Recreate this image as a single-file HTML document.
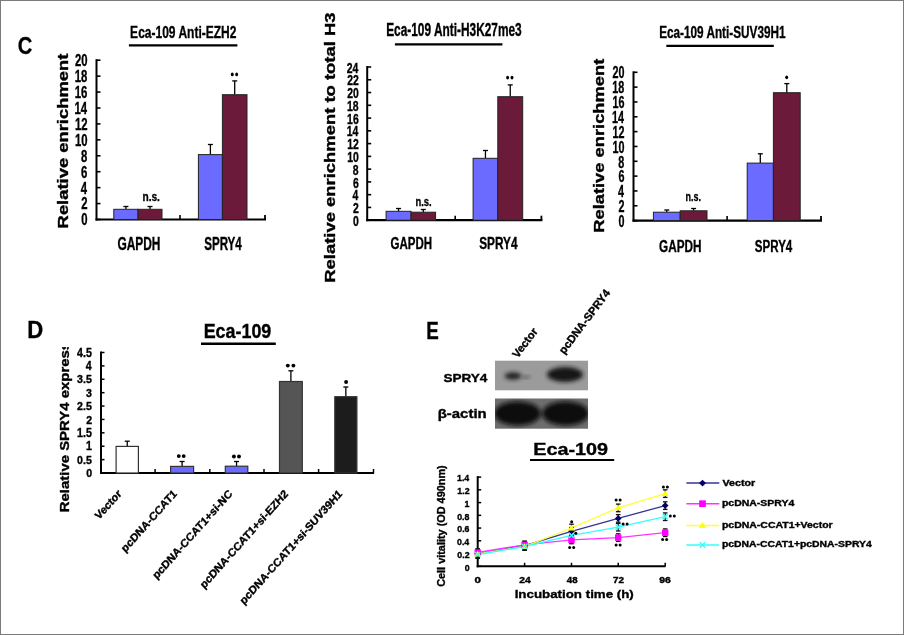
<!DOCTYPE html>
<html><head><meta charset="utf-8"><style>
html,body{margin:0;padding:0;background:#fff;}
svg{display:block;filter:blur(0.3px);}
text{font-family:"Liberation Sans",sans-serif;font-weight:bold;stroke:#000;stroke-width:0.35px;}
</style></head><body>
<svg width="904" height="635" viewBox="0 0 904 635">
<defs>
<filter id="bl" x="-50%" y="-50%" width="200%" height="200%"><feGaussianBlur stdDeviation="2.5"/></filter>
<filter id="bl2" x="-50%" y="-50%" width="200%" height="200%"><feGaussianBlur stdDeviation="2"/></filter>
<clipPath id="clipD"><rect x="0" y="347" width="904" height="288"/></clipPath>
</defs>
<rect x="0" y="0" width="904" height="635" fill="#fff"/>
<text font-size="24.51" fill="#000" transform="translate(17.69,54.15) scale(0.822,1)">C</text>
<text font-size="23.77" fill="#000" transform="translate(27.26,338.00) scale(0.930,1)">D</text>
<text font-size="24.06" fill="#000" transform="translate(426.18,339.30) scale(0.780,1)">E</text>
<line x1="96.50" y1="59.20" x2="96.50" y2="220.50" stroke="#000" stroke-width="2"/>
<line x1="95.50" y1="219.50" x2="266.00" y2="219.50" stroke="#000" stroke-width="2.2"/>
<line x1="96.50" y1="219.50" x2="100.50" y2="219.50" stroke="#000" stroke-width="1.6"/>
<line x1="96.50" y1="203.57" x2="100.50" y2="203.57" stroke="#000" stroke-width="1.6"/>
<line x1="96.50" y1="187.64" x2="100.50" y2="187.64" stroke="#000" stroke-width="1.6"/>
<line x1="96.50" y1="171.71" x2="100.50" y2="171.71" stroke="#000" stroke-width="1.6"/>
<line x1="96.50" y1="155.78" x2="100.50" y2="155.78" stroke="#000" stroke-width="1.6"/>
<line x1="96.50" y1="139.85" x2="100.50" y2="139.85" stroke="#000" stroke-width="1.6"/>
<line x1="96.50" y1="123.92" x2="100.50" y2="123.92" stroke="#000" stroke-width="1.6"/>
<line x1="96.50" y1="107.99" x2="100.50" y2="107.99" stroke="#000" stroke-width="1.6"/>
<line x1="96.50" y1="92.06" x2="100.50" y2="92.06" stroke="#000" stroke-width="1.6"/>
<line x1="96.50" y1="76.13" x2="100.50" y2="76.13" stroke="#000" stroke-width="1.6"/>
<line x1="96.50" y1="60.20" x2="100.50" y2="60.20" stroke="#000" stroke-width="1.6"/>
<line x1="180.00" y1="219.50" x2="180.00" y2="215.00" stroke="#000" stroke-width="1.6"/>
<line x1="265.00" y1="219.50" x2="265.00" y2="215.00" stroke="#000" stroke-width="1.8"/>
<line x1="125.90" y1="206.50" x2="125.90" y2="209.30" stroke="#000" stroke-width="1.3"/>
<line x1="123.40" y1="206.50" x2="128.40" y2="206.50" stroke="#000" stroke-width="1.3"/>
<rect x="113.80" y="209.30" width="24.20" height="10.20" fill="#6b6bff" stroke="#222" stroke-width="1"/>
<line x1="150.00" y1="206.50" x2="150.00" y2="209.30" stroke="#000" stroke-width="1.3"/>
<line x1="147.50" y1="206.50" x2="152.50" y2="206.50" stroke="#000" stroke-width="1.3"/>
<rect x="138.00" y="209.30" width="24.00" height="10.20" fill="#6b1a3a" stroke="#222" stroke-width="1"/>
<line x1="210.40" y1="144.50" x2="210.40" y2="154.60" stroke="#000" stroke-width="1.3"/>
<line x1="207.90" y1="144.50" x2="212.90" y2="144.50" stroke="#000" stroke-width="1.3"/>
<rect x="198.40" y="154.60" width="24.00" height="64.90" fill="#6b6bff" stroke="#222" stroke-width="1"/>
<line x1="234.70" y1="80.90" x2="234.70" y2="94.70" stroke="#000" stroke-width="1.3"/>
<line x1="232.20" y1="80.90" x2="237.20" y2="80.90" stroke="#000" stroke-width="1.3"/>
<rect x="222.40" y="94.70" width="24.60" height="124.80" fill="#6b1a3a" stroke="#222" stroke-width="1"/>
<text font-size="16.52" fill="#000" transform="translate(130.12,37.80) scale(0.727,1)">Eca-109 Anti-EZH2</text>
<line x1="128.90" y1="45.30" x2="237.40" y2="45.30" stroke="#000" stroke-width="2.2"/>
<text font-size="14.42" fill="#000" transform="translate(67.76,228.40) rotate(-90) scale(1.276,1)">Relative enrichment</text>
<line x1="367.20" y1="66.00" x2="367.20" y2="221.20" stroke="#000" stroke-width="2"/>
<line x1="366.20" y1="220.20" x2="542.40" y2="220.20" stroke="#000" stroke-width="2.2"/>
<line x1="367.20" y1="220.20" x2="371.20" y2="220.20" stroke="#000" stroke-width="1.6"/>
<line x1="367.20" y1="207.43" x2="371.20" y2="207.43" stroke="#000" stroke-width="1.6"/>
<line x1="367.20" y1="194.67" x2="371.20" y2="194.67" stroke="#000" stroke-width="1.6"/>
<line x1="367.20" y1="181.90" x2="371.20" y2="181.90" stroke="#000" stroke-width="1.6"/>
<line x1="367.20" y1="169.13" x2="371.20" y2="169.13" stroke="#000" stroke-width="1.6"/>
<line x1="367.20" y1="156.37" x2="371.20" y2="156.37" stroke="#000" stroke-width="1.6"/>
<line x1="367.20" y1="143.60" x2="371.20" y2="143.60" stroke="#000" stroke-width="1.6"/>
<line x1="367.20" y1="130.83" x2="371.20" y2="130.83" stroke="#000" stroke-width="1.6"/>
<line x1="367.20" y1="118.07" x2="371.20" y2="118.07" stroke="#000" stroke-width="1.6"/>
<line x1="367.20" y1="105.30" x2="371.20" y2="105.30" stroke="#000" stroke-width="1.6"/>
<line x1="367.20" y1="92.53" x2="371.20" y2="92.53" stroke="#000" stroke-width="1.6"/>
<line x1="367.20" y1="79.77" x2="371.20" y2="79.77" stroke="#000" stroke-width="1.6"/>
<line x1="367.20" y1="67.00" x2="371.20" y2="67.00" stroke="#000" stroke-width="1.6"/>
<line x1="455.20" y1="220.20" x2="455.20" y2="215.70" stroke="#000" stroke-width="1.6"/>
<line x1="541.40" y1="220.20" x2="541.40" y2="215.70" stroke="#000" stroke-width="1.8"/>
<line x1="398.55" y1="208.50" x2="398.55" y2="211.30" stroke="#000" stroke-width="1.3"/>
<line x1="396.05" y1="208.50" x2="401.05" y2="208.50" stroke="#000" stroke-width="1.3"/>
<rect x="386.10" y="211.30" width="24.90" height="8.90" fill="#6b6bff" stroke="#222" stroke-width="1"/>
<line x1="423.30" y1="209.50" x2="423.30" y2="212.20" stroke="#000" stroke-width="1.3"/>
<line x1="420.80" y1="209.50" x2="425.80" y2="209.50" stroke="#000" stroke-width="1.3"/>
<rect x="411.00" y="212.20" width="24.60" height="8.00" fill="#6b1a3a" stroke="#222" stroke-width="1"/>
<line x1="485.45" y1="150.50" x2="485.45" y2="158.30" stroke="#000" stroke-width="1.3"/>
<line x1="482.95" y1="150.50" x2="487.95" y2="150.50" stroke="#000" stroke-width="1.3"/>
<rect x="473.10" y="158.30" width="24.70" height="61.90" fill="#6b6bff" stroke="#222" stroke-width="1"/>
<line x1="510.25" y1="84.90" x2="510.25" y2="96.70" stroke="#000" stroke-width="1.3"/>
<line x1="507.75" y1="84.90" x2="512.75" y2="84.90" stroke="#000" stroke-width="1.3"/>
<rect x="497.80" y="96.70" width="24.90" height="123.50" fill="#6b1a3a" stroke="#222" stroke-width="1"/>
<text font-size="17.54" fill="#000" transform="translate(386.13,35.90) scale(0.678,1)">Eca-109 Anti-H3K27me3</text>
<line x1="394.90" y1="44.30" x2="502.40" y2="44.30" stroke="#000" stroke-width="2.2"/>
<text font-size="14.83" fill="#000" transform="translate(334.65,282.80) rotate(-90) scale(1.244,1)">Relative enrichment to total H3</text>
<line x1="633.50" y1="71.30" x2="633.50" y2="221.60" stroke="#000" stroke-width="2"/>
<line x1="632.50" y1="220.60" x2="822.00" y2="220.60" stroke="#000" stroke-width="2.2"/>
<line x1="633.50" y1="220.60" x2="637.50" y2="220.60" stroke="#000" stroke-width="1.6"/>
<line x1="633.50" y1="205.77" x2="637.50" y2="205.77" stroke="#000" stroke-width="1.6"/>
<line x1="633.50" y1="190.94" x2="637.50" y2="190.94" stroke="#000" stroke-width="1.6"/>
<line x1="633.50" y1="176.11" x2="637.50" y2="176.11" stroke="#000" stroke-width="1.6"/>
<line x1="633.50" y1="161.28" x2="637.50" y2="161.28" stroke="#000" stroke-width="1.6"/>
<line x1="633.50" y1="146.45" x2="637.50" y2="146.45" stroke="#000" stroke-width="1.6"/>
<line x1="633.50" y1="131.62" x2="637.50" y2="131.62" stroke="#000" stroke-width="1.6"/>
<line x1="633.50" y1="116.79" x2="637.50" y2="116.79" stroke="#000" stroke-width="1.6"/>
<line x1="633.50" y1="101.96" x2="637.50" y2="101.96" stroke="#000" stroke-width="1.6"/>
<line x1="633.50" y1="87.13" x2="637.50" y2="87.13" stroke="#000" stroke-width="1.6"/>
<line x1="633.50" y1="72.30" x2="637.50" y2="72.30" stroke="#000" stroke-width="1.6"/>
<line x1="727.10" y1="220.60" x2="727.10" y2="216.10" stroke="#000" stroke-width="1.6"/>
<line x1="821.00" y1="220.60" x2="821.00" y2="216.10" stroke="#000" stroke-width="1.8"/>
<line x1="666.80" y1="210.00" x2="666.80" y2="212.20" stroke="#000" stroke-width="1.3"/>
<line x1="664.30" y1="210.00" x2="669.30" y2="210.00" stroke="#000" stroke-width="1.3"/>
<rect x="653.40" y="212.20" width="26.80" height="8.40" fill="#6b6bff" stroke="#222" stroke-width="1"/>
<line x1="693.60" y1="208.50" x2="693.60" y2="210.80" stroke="#000" stroke-width="1.3"/>
<line x1="691.10" y1="208.50" x2="696.10" y2="208.50" stroke="#000" stroke-width="1.3"/>
<rect x="680.20" y="210.80" width="26.80" height="9.80" fill="#6b1a3a" stroke="#222" stroke-width="1"/>
<line x1="760.30" y1="153.80" x2="760.30" y2="163.10" stroke="#000" stroke-width="1.3"/>
<line x1="757.80" y1="153.80" x2="762.80" y2="153.80" stroke="#000" stroke-width="1.3"/>
<rect x="747.20" y="163.10" width="26.20" height="57.50" fill="#6b6bff" stroke="#222" stroke-width="1"/>
<line x1="786.80" y1="83.60" x2="786.80" y2="92.70" stroke="#000" stroke-width="1.3"/>
<line x1="784.30" y1="83.60" x2="789.30" y2="83.60" stroke="#000" stroke-width="1.3"/>
<rect x="773.40" y="92.70" width="26.80" height="127.90" fill="#6b1a3a" stroke="#222" stroke-width="1"/>
<text font-size="16.52" fill="#000" transform="translate(659.13,38.20) scale(0.713,1)">Eca-109 Anti-SUV39H1</text>
<line x1="666.30" y1="45.80" x2="773.80" y2="45.80" stroke="#000" stroke-width="2.2"/>
<text font-size="14.29" fill="#000" transform="translate(603.86,232.79) rotate(-90) scale(1.283,1)">Relative enrichment</text>
<text font-size="15.71" transform="translate(81.16,225.40) scale(0.721,1)">0</text>
<text font-size="15.71" transform="translate(81.16,209.47) scale(0.721,1)">2</text>
<text font-size="15.94" transform="translate(80.77,193.54) scale(0.711,1)">4</text>
<text font-size="15.71" transform="translate(81.11,177.61) scale(0.721,1)">6</text>
<text font-size="15.71" transform="translate(81.05,161.68) scale(0.721,1)">8</text>
<text font-size="15.71" transform="translate(74.88,145.75) scale(0.721,1)">10</text>
<text font-size="15.71" transform="translate(74.88,129.82) scale(0.721,1)">12</text>
<text font-size="15.94" transform="translate(74.48,113.89) scale(0.711,1)">14</text>
<text font-size="15.71" transform="translate(74.82,97.96) scale(0.721,1)">16</text>
<text font-size="15.71" transform="translate(74.76,82.03) scale(0.721,1)">18</text>
<text font-size="15.71" transform="translate(74.88,66.10) scale(0.721,1)">20</text>
<text font-size="14.29" transform="translate(352.93,226.00) scale(0.730,1)">0</text>
<text font-size="14.29" transform="translate(352.93,213.21) scale(0.730,1)">2</text>
<text font-size="14.49" transform="translate(352.56,200.42) scale(0.720,1)">4</text>
<text font-size="14.29" transform="translate(352.88,187.62) scale(0.730,1)">6</text>
<text font-size="14.29" transform="translate(352.82,174.83) scale(0.730,1)">8</text>
<text font-size="14.29" transform="translate(347.14,162.04) scale(0.730,1)">10</text>
<text font-size="14.29" transform="translate(347.14,149.25) scale(0.730,1)">12</text>
<text font-size="14.49" transform="translate(346.77,136.46) scale(0.720,1)">14</text>
<text font-size="14.29" transform="translate(347.09,123.67) scale(0.730,1)">16</text>
<text font-size="14.29" transform="translate(347.03,110.88) scale(0.730,1)">18</text>
<text font-size="14.29" transform="translate(347.14,98.08) scale(0.730,1)">20</text>
<text font-size="14.29" transform="translate(347.14,85.29) scale(0.730,1)">22</text>
<text font-size="14.29" transform="translate(346.77,72.50) scale(0.730,1)">24</text>
<text font-size="16.43" transform="translate(618.44,227.05) scale(0.657,1)">0</text>
<text font-size="16.43" transform="translate(618.44,212.19) scale(0.657,1)">2</text>
<text font-size="16.67" transform="translate(618.06,197.33) scale(0.647,1)">4</text>
<text font-size="16.43" transform="translate(618.39,182.47) scale(0.657,1)">6</text>
<text font-size="16.43" transform="translate(618.33,167.61) scale(0.657,1)">8</text>
<text font-size="16.43" transform="translate(612.45,152.75) scale(0.657,1)">10</text>
<text font-size="16.43" transform="translate(612.45,137.89) scale(0.657,1)">12</text>
<text font-size="16.67" transform="translate(612.08,123.03) scale(0.647,1)">14</text>
<text font-size="16.43" transform="translate(612.40,108.17) scale(0.657,1)">16</text>
<text font-size="16.43" transform="translate(612.35,93.31) scale(0.657,1)">18</text>
<text font-size="16.43" transform="translate(612.45,78.45) scale(0.657,1)">20</text>
<text font-size="17.46" fill="#000" transform="translate(117.42,250.23) scale(0.683,1)">GAPDH</text>
<text font-size="17.46" fill="#000" transform="translate(204.15,250.23) scale(0.666,1)">SPRY4</text>
<text font-size="16.20" fill="#000" transform="translate(390.44,248.64) scale(0.712,1)">GAPDH</text>
<text font-size="16.20" fill="#000" transform="translate(479.15,248.64) scale(0.730,1)">SPRY4</text>
<text font-size="17.18" fill="#000" transform="translate(659.03,251.73) scale(0.684,1)">GAPDH</text>
<text font-size="17.18" fill="#000" transform="translate(754.75,251.73) scale(0.675,1)">SPRY4</text>
<text font-size="13.45" fill="#000" transform="translate(142.44,200.77) scale(0.757,1)">n.s.</text>
<text font-size="13.64" fill="#000" transform="translate(415.39,205.86) scale(0.692,1)">n.s.</text>
<text font-size="13.45" fill="#000" transform="translate(685.42,201.27) scale(0.668,1)">n.s.</text>
<ellipse cx="232.30" cy="74.40" rx="1.45" ry="1.9" fill="#000"/>
<ellipse cx="236.70" cy="74.40" rx="1.45" ry="1.9" fill="#000"/>
<ellipse cx="507.60" cy="77.60" rx="1.45" ry="1.9" fill="#000"/>
<ellipse cx="512.00" cy="77.60" rx="1.45" ry="1.9" fill="#000"/>
<ellipse cx="786.70" cy="77.30" rx="1.45" ry="1.9" fill="#000"/>
<line x1="101.00" y1="351.50" x2="101.00" y2="474.00" stroke="#000" stroke-width="2"/>
<line x1="100.00" y1="473.00" x2="374.00" y2="473.00" stroke="#000" stroke-width="2"/>
<line x1="101.00" y1="473.00" x2="104.50" y2="473.00" stroke="#000" stroke-width="1.5"/>
<line x1="101.00" y1="459.61" x2="104.50" y2="459.61" stroke="#000" stroke-width="1.5"/>
<line x1="101.00" y1="446.22" x2="104.50" y2="446.22" stroke="#000" stroke-width="1.5"/>
<line x1="101.00" y1="432.83" x2="104.50" y2="432.83" stroke="#000" stroke-width="1.5"/>
<line x1="101.00" y1="419.44" x2="104.50" y2="419.44" stroke="#000" stroke-width="1.5"/>
<line x1="101.00" y1="406.06" x2="104.50" y2="406.06" stroke="#000" stroke-width="1.5"/>
<line x1="101.00" y1="392.67" x2="104.50" y2="392.67" stroke="#000" stroke-width="1.5"/>
<line x1="101.00" y1="379.28" x2="104.50" y2="379.28" stroke="#000" stroke-width="1.5"/>
<line x1="101.00" y1="365.89" x2="104.50" y2="365.89" stroke="#000" stroke-width="1.5"/>
<line x1="101.00" y1="352.50" x2="104.50" y2="352.50" stroke="#000" stroke-width="1.5"/>
<line x1="155.10" y1="473.00" x2="155.10" y2="469.00" stroke="#000" stroke-width="1.5"/>
<line x1="209.80" y1="473.00" x2="209.80" y2="469.00" stroke="#000" stroke-width="1.5"/>
<line x1="264.00" y1="473.00" x2="264.00" y2="469.00" stroke="#000" stroke-width="1.5"/>
<line x1="318.60" y1="473.00" x2="318.60" y2="469.00" stroke="#000" stroke-width="1.5"/>
<line x1="373.50" y1="473.00" x2="373.50" y2="469.00" stroke="#000" stroke-width="1.5"/>
<line x1="127.25" y1="441.20" x2="127.25" y2="446.40" stroke="#000" stroke-width="1.3"/>
<line x1="124.75" y1="441.20" x2="129.75" y2="441.20" stroke="#000" stroke-width="1.3"/>
<rect x="116.10" y="446.40" width="22.30" height="26.60" fill="#ffffff" stroke="#333" stroke-width="1.2"/>
<line x1="182.10" y1="461.50" x2="182.10" y2="466.40" stroke="#000" stroke-width="1.3"/>
<line x1="179.60" y1="461.50" x2="184.60" y2="461.50" stroke="#000" stroke-width="1.3"/>
<rect x="170.60" y="466.40" width="23.00" height="6.60" fill="#6b6bff" stroke="#333" stroke-width="1.2"/>
<line x1="236.55" y1="461.50" x2="236.55" y2="466.20" stroke="#000" stroke-width="1.3"/>
<line x1="234.05" y1="461.50" x2="239.05" y2="461.50" stroke="#000" stroke-width="1.3"/>
<rect x="225.30" y="466.20" width="22.50" height="6.80" fill="#6b6bff" stroke="#333" stroke-width="1.2"/>
<line x1="290.90" y1="370.80" x2="290.90" y2="381.50" stroke="#000" stroke-width="1.3"/>
<line x1="288.40" y1="370.80" x2="293.40" y2="370.80" stroke="#000" stroke-width="1.3"/>
<rect x="279.50" y="381.50" width="22.80" height="91.50" fill="#555555" stroke="#333" stroke-width="1.2"/>
<line x1="345.85" y1="387.00" x2="345.85" y2="396.70" stroke="#000" stroke-width="1.3"/>
<line x1="343.35" y1="387.00" x2="348.35" y2="387.00" stroke="#000" stroke-width="1.3"/>
<rect x="334.80" y="396.70" width="22.10" height="76.30" fill="#1c1c1c" stroke="#333" stroke-width="1.2"/>
<text font-size="11.71" transform="translate(86.14,477.10) scale(0.906,1)">0</text>
<text font-size="11.71" transform="translate(77.12,463.71) scale(0.906,1)">0.5</text>
<text font-size="11.88" transform="translate(85.98,450.32) scale(0.893,1)">1</text>
<text font-size="11.88" transform="translate(77.12,436.93) scale(0.893,1)">1.5</text>
<text font-size="11.71" transform="translate(86.14,423.54) scale(0.906,1)">2</text>
<text font-size="11.71" transform="translate(77.12,410.16) scale(0.906,1)">2.5</text>
<text font-size="11.71" transform="translate(86.08,396.77) scale(0.906,1)">3</text>
<text font-size="11.71" transform="translate(77.12,383.38) scale(0.906,1)">3.5</text>
<text font-size="11.88" transform="translate(85.76,369.99) scale(0.893,1)">4</text>
<text font-size="11.88" transform="translate(77.12,356.60) scale(0.893,1)">4.5</text>
<text font-size="19.57" fill="#000" transform="translate(203.64,337.70) scale(0.915,1)">Eca-109</text>
<line x1="201.00" y1="343.80" x2="275.80" y2="343.80" stroke="#000" stroke-width="2.4"/>
<circle cx="178.8" cy="456.1" r="1.95" fill="#000"/>
<circle cx="183.7" cy="456.1" r="1.95" fill="#000"/>
<circle cx="233.9" cy="456.5" r="1.95" fill="#000"/>
<circle cx="239.0" cy="456.5" r="1.95" fill="#000"/>
<circle cx="287.8" cy="365.6" r="1.95" fill="#000"/>
<circle cx="293.4" cy="365.6" r="1.95" fill="#000"/>
<circle cx="346.1" cy="382.0" r="1.95" fill="#000"/>
<g clip-path="url(#clipD)">
<text font-size="13.05" fill="#000" transform="translate(68.86,512.27) rotate(-90) scale(1.145,1)">Relative SPRY4 expression</text>
</g>
<text font-size="10.20" fill="#000" text-anchor="end" transform="translate(122.10,494.50) scale(1,1.12) rotate(-45) scale(1.045,1)">Vector</text>
<text font-size="10.20" fill="#000" text-anchor="end" transform="translate(177.50,494.50) scale(1,1.12) rotate(-45) scale(1.045,1)">pcDNA-CCAT1</text>
<text font-size="10.20" fill="#000" text-anchor="end" transform="translate(232.90,494.50) scale(1,1.12) rotate(-45) scale(1.045,1)">pcDNA-CCAT1+si-NC</text>
<text font-size="10.20" fill="#000" text-anchor="end" transform="translate(288.70,494.50) scale(1,1.12) rotate(-45) scale(1.045,1)">pcDNA-CCAT1+si-EZH2</text>
<text font-size="10.20" fill="#000" text-anchor="end" transform="translate(342.80,494.50) scale(1,1.12) rotate(-45) scale(1.045,1)">pcDNA-CCAT1+si-SUV39H1</text>
<clipPath id="cb1"><rect x="495" y="360.7" width="93" height="29.6"/></clipPath>
<clipPath id="cb2"><rect x="495" y="398.5" width="93" height="30.2"/></clipPath>
<rect x="495" y="360.7" width="93" height="29.6" fill="#9b9b9b"/>
<g clip-path="url(#cb1)">
<ellipse cx="513" cy="376" rx="8.5" ry="3.6" fill="#1e1e1e" filter="url(#bl2)"/>
<ellipse cx="526" cy="377" rx="4" ry="1.5" fill="#555" filter="url(#bl2)"/>
<ellipse cx="565" cy="374.5" rx="18" ry="7.5" fill="#151515" filter="url(#bl2)"/>
</g>
<rect x="495" y="398.5" width="93" height="30.2" fill="#6e6e6e"/>
<g clip-path="url(#cb2)">
<ellipse cx="517.5" cy="413.5" rx="23.5" ry="12" fill="#0a0a0a" filter="url(#bl2)"/>
<ellipse cx="565.5" cy="413.5" rx="23.5" ry="12" fill="#0a0a0a" filter="url(#bl2)"/>
</g>
<text font-size="11.55" fill="#000" transform="translate(443.39,381.88) scale(1.175,1)">SPRY4</text>
<text font-size="12.73" fill="#000" transform="translate(437.76,417.73) scale(1.172,1)">β-actin</text>
<text font-size="11.20" fill="#000" text-anchor="end" transform="translate(538.30,331.50) scale(1,1.0) rotate(-53) scale(1.000,1)">Vector</text>
<text font-size="11.20" fill="#000" text-anchor="end" transform="translate(610.80,293.00) scale(1,1.0) rotate(-53) scale(1.000,1)">pcDNA-SPRY4</text>
<text font-size="16.67" fill="#000" transform="translate(533.31,454.50) scale(1.187,1)">Eca-109</text>
<line x1="530.00" y1="460.00" x2="614.20" y2="460.00" stroke="#000" stroke-width="2.2"/>
<line x1="477.70" y1="476.10" x2="477.70" y2="567.30" stroke="#000" stroke-width="2"/>
<line x1="476.70" y1="566.30" x2="665.60" y2="566.30" stroke="#000" stroke-width="2"/>
<line x1="477.70" y1="566.30" x2="481.20" y2="566.30" stroke="#000" stroke-width="1.5"/>
<line x1="477.70" y1="553.56" x2="481.20" y2="553.56" stroke="#000" stroke-width="1.5"/>
<line x1="477.70" y1="540.81" x2="481.20" y2="540.81" stroke="#000" stroke-width="1.5"/>
<line x1="477.70" y1="528.07" x2="481.20" y2="528.07" stroke="#000" stroke-width="1.5"/>
<line x1="477.70" y1="515.33" x2="481.20" y2="515.33" stroke="#000" stroke-width="1.5"/>
<line x1="477.70" y1="502.59" x2="481.20" y2="502.59" stroke="#000" stroke-width="1.5"/>
<line x1="477.70" y1="489.84" x2="481.20" y2="489.84" stroke="#000" stroke-width="1.5"/>
<line x1="477.70" y1="477.10" x2="481.20" y2="477.10" stroke="#000" stroke-width="1.5"/>
<line x1="524.60" y1="566.30" x2="524.60" y2="562.80" stroke="#000" stroke-width="1.5"/>
<line x1="571.50" y1="566.30" x2="571.50" y2="562.80" stroke="#000" stroke-width="1.5"/>
<line x1="618.20" y1="566.30" x2="618.20" y2="562.80" stroke="#000" stroke-width="1.5"/>
<line x1="665.20" y1="566.30" x2="665.20" y2="562.80" stroke="#000" stroke-width="1.5"/>
<text font-size="8.86" transform="translate(464.66,570.50) scale(0.995,1)">0</text>
<text font-size="8.86" transform="translate(457.30,557.76) scale(0.995,1)">0.2</text>
<text font-size="8.86" transform="translate(456.99,545.01) scale(0.995,1)">0.4</text>
<text font-size="8.86" transform="translate(457.26,532.27) scale(0.995,1)">0.6</text>
<text font-size="8.86" transform="translate(457.21,519.53) scale(0.995,1)">0.8</text>
<text font-size="8.99" transform="translate(464.53,506.79) scale(0.981,1)">1</text>
<text font-size="8.86" transform="translate(457.30,494.04) scale(0.995,1)">1.2</text>
<text font-size="8.99" transform="translate(456.99,481.30) scale(0.981,1)">1.4</text>
<text font-size="8.17" fill="#000" transform="translate(474.54,583.12) scale(1.417,1)">0</text>
<text font-size="8.17" fill="#000" transform="translate(519.24,583.12) scale(1.258,1)">24</text>
<text font-size="8.17" fill="#000" transform="translate(566.85,583.12) scale(1.184,1)">48</text>
<text font-size="8.17" fill="#000" transform="translate(612.90,583.12) scale(1.212,1)">72</text>
<text font-size="8.17" fill="#000" transform="translate(659.23,583.12) scale(1.283,1)">96</text>
<text font-size="11.76" fill="#000" transform="translate(514.63,597.53) scale(1.134,1)">Incubation time (h)</text>
<text font-size="11.66" fill="#000" transform="translate(445.45,586.84) rotate(-90) scale(0.935,1)">Cell vitality (OD 490nm)</text>
<polyline points="477.7,553.5 524.6,545.5 571.5,531.3 618.2,518.4 665.2,505.6" fill="none" stroke="#333399" stroke-width="1.3"/>
<polyline points="477.7,552.5 524.6,544.8 571.5,539.9 618.2,537.6 665.2,532.7" fill="none" stroke="#ff33ff" stroke-width="1.3"/>
<polyline points="477.7,554.0 524.6,546.5 571.5,528.0 618.2,507.9 665.2,493.6" fill="none" stroke="#ffff33" stroke-width="1.3"/>
<polyline points="477.7,554.5 524.6,546.5 571.5,535.3 618.2,527.2 665.2,516.7" fill="none" stroke="#33ffff" stroke-width="1.3"/>
<line x1="477.70" y1="549.70" x2="477.70" y2="557.30" stroke="#111" stroke-width="1.1"/>
<line x1="475.40" y1="549.70" x2="480.00" y2="549.70" stroke="#111" stroke-width="1.3"/>
<line x1="475.40" y1="557.30" x2="480.00" y2="557.30" stroke="#111" stroke-width="1.3"/>
<line x1="524.60" y1="541.70" x2="524.60" y2="549.30" stroke="#111" stroke-width="1.1"/>
<line x1="522.30" y1="541.70" x2="526.90" y2="541.70" stroke="#111" stroke-width="1.3"/>
<line x1="522.30" y1="549.30" x2="526.90" y2="549.30" stroke="#111" stroke-width="1.3"/>
<line x1="571.50" y1="527.50" x2="571.50" y2="535.10" stroke="#111" stroke-width="1.1"/>
<line x1="569.20" y1="527.50" x2="573.80" y2="527.50" stroke="#111" stroke-width="1.3"/>
<line x1="569.20" y1="535.10" x2="573.80" y2="535.10" stroke="#111" stroke-width="1.3"/>
<line x1="618.20" y1="514.60" x2="618.20" y2="522.20" stroke="#111" stroke-width="1.1"/>
<line x1="615.90" y1="514.60" x2="620.50" y2="514.60" stroke="#111" stroke-width="1.3"/>
<line x1="615.90" y1="522.20" x2="620.50" y2="522.20" stroke="#111" stroke-width="1.3"/>
<line x1="665.20" y1="501.80" x2="665.20" y2="509.40" stroke="#111" stroke-width="1.1"/>
<line x1="662.90" y1="501.80" x2="667.50" y2="501.80" stroke="#111" stroke-width="1.3"/>
<line x1="662.90" y1="509.40" x2="667.50" y2="509.40" stroke="#111" stroke-width="1.3"/>
<line x1="477.70" y1="548.70" x2="477.70" y2="556.30" stroke="#111" stroke-width="1.1"/>
<line x1="475.40" y1="548.70" x2="480.00" y2="548.70" stroke="#111" stroke-width="1.3"/>
<line x1="475.40" y1="556.30" x2="480.00" y2="556.30" stroke="#111" stroke-width="1.3"/>
<line x1="524.60" y1="541.00" x2="524.60" y2="548.60" stroke="#111" stroke-width="1.1"/>
<line x1="522.30" y1="541.00" x2="526.90" y2="541.00" stroke="#111" stroke-width="1.3"/>
<line x1="522.30" y1="548.60" x2="526.90" y2="548.60" stroke="#111" stroke-width="1.3"/>
<line x1="571.50" y1="536.10" x2="571.50" y2="543.70" stroke="#111" stroke-width="1.1"/>
<line x1="569.20" y1="536.10" x2="573.80" y2="536.10" stroke="#111" stroke-width="1.3"/>
<line x1="569.20" y1="543.70" x2="573.80" y2="543.70" stroke="#111" stroke-width="1.3"/>
<line x1="618.20" y1="533.80" x2="618.20" y2="541.40" stroke="#111" stroke-width="1.1"/>
<line x1="615.90" y1="533.80" x2="620.50" y2="533.80" stroke="#111" stroke-width="1.3"/>
<line x1="615.90" y1="541.40" x2="620.50" y2="541.40" stroke="#111" stroke-width="1.3"/>
<line x1="665.20" y1="528.90" x2="665.20" y2="536.50" stroke="#111" stroke-width="1.1"/>
<line x1="662.90" y1="528.90" x2="667.50" y2="528.90" stroke="#111" stroke-width="1.3"/>
<line x1="662.90" y1="536.50" x2="667.50" y2="536.50" stroke="#111" stroke-width="1.3"/>
<line x1="477.70" y1="550.20" x2="477.70" y2="557.80" stroke="#111" stroke-width="1.1"/>
<line x1="475.40" y1="550.20" x2="480.00" y2="550.20" stroke="#111" stroke-width="1.3"/>
<line x1="475.40" y1="557.80" x2="480.00" y2="557.80" stroke="#111" stroke-width="1.3"/>
<line x1="524.60" y1="542.70" x2="524.60" y2="550.30" stroke="#111" stroke-width="1.1"/>
<line x1="522.30" y1="542.70" x2="526.90" y2="542.70" stroke="#111" stroke-width="1.3"/>
<line x1="522.30" y1="550.30" x2="526.90" y2="550.30" stroke="#111" stroke-width="1.3"/>
<line x1="571.50" y1="524.20" x2="571.50" y2="531.80" stroke="#111" stroke-width="1.1"/>
<line x1="569.20" y1="524.20" x2="573.80" y2="524.20" stroke="#111" stroke-width="1.3"/>
<line x1="569.20" y1="531.80" x2="573.80" y2="531.80" stroke="#111" stroke-width="1.3"/>
<line x1="618.20" y1="504.10" x2="618.20" y2="511.70" stroke="#111" stroke-width="1.1"/>
<line x1="615.90" y1="504.10" x2="620.50" y2="504.10" stroke="#111" stroke-width="1.3"/>
<line x1="615.90" y1="511.70" x2="620.50" y2="511.70" stroke="#111" stroke-width="1.3"/>
<line x1="665.20" y1="489.80" x2="665.20" y2="497.40" stroke="#111" stroke-width="1.1"/>
<line x1="662.90" y1="489.80" x2="667.50" y2="489.80" stroke="#111" stroke-width="1.3"/>
<line x1="662.90" y1="497.40" x2="667.50" y2="497.40" stroke="#111" stroke-width="1.3"/>
<line x1="477.70" y1="550.70" x2="477.70" y2="558.30" stroke="#111" stroke-width="1.1"/>
<line x1="475.40" y1="550.70" x2="480.00" y2="550.70" stroke="#111" stroke-width="1.3"/>
<line x1="475.40" y1="558.30" x2="480.00" y2="558.30" stroke="#111" stroke-width="1.3"/>
<line x1="524.60" y1="542.70" x2="524.60" y2="550.30" stroke="#111" stroke-width="1.1"/>
<line x1="522.30" y1="542.70" x2="526.90" y2="542.70" stroke="#111" stroke-width="1.3"/>
<line x1="522.30" y1="550.30" x2="526.90" y2="550.30" stroke="#111" stroke-width="1.3"/>
<line x1="571.50" y1="531.50" x2="571.50" y2="539.10" stroke="#111" stroke-width="1.1"/>
<line x1="569.20" y1="531.50" x2="573.80" y2="531.50" stroke="#111" stroke-width="1.3"/>
<line x1="569.20" y1="539.10" x2="573.80" y2="539.10" stroke="#111" stroke-width="1.3"/>
<line x1="618.20" y1="523.40" x2="618.20" y2="531.00" stroke="#111" stroke-width="1.1"/>
<line x1="615.90" y1="523.40" x2="620.50" y2="523.40" stroke="#111" stroke-width="1.3"/>
<line x1="615.90" y1="531.00" x2="620.50" y2="531.00" stroke="#111" stroke-width="1.3"/>
<line x1="665.20" y1="512.90" x2="665.20" y2="520.50" stroke="#111" stroke-width="1.1"/>
<line x1="662.90" y1="512.90" x2="667.50" y2="512.90" stroke="#111" stroke-width="1.3"/>
<line x1="662.90" y1="520.50" x2="667.50" y2="520.50" stroke="#111" stroke-width="1.3"/>
<polygon points="477.70,550.20 481.00,553.50 477.70,556.80 474.40,553.50" fill="#000066"/>
<polygon points="524.60,542.20 527.90,545.50 524.60,548.80 521.30,545.50" fill="#000066"/>
<polygon points="571.50,528.00 574.80,531.30 571.50,534.60 568.20,531.30" fill="#000066"/>
<polygon points="618.20,515.10 621.50,518.40 618.20,521.70 614.90,518.40" fill="#000066"/>
<polygon points="665.20,502.30 668.50,505.60 665.20,508.90 661.90,505.60" fill="#000066"/>
<rect x="474.50" y="549.30" width="6.40" height="6.40" fill="#ff00ff"/>
<rect x="521.40" y="541.60" width="6.40" height="6.40" fill="#ff00ff"/>
<rect x="568.30" y="536.70" width="6.40" height="6.40" fill="#ff00ff"/>
<rect x="615.00" y="534.40" width="6.40" height="6.40" fill="#ff00ff"/>
<rect x="662.00" y="529.50" width="6.40" height="6.40" fill="#ff00ff"/>
<polygon points="477.70,550.80 481.22,556.40 474.18,556.40" fill="#ffff00"/>
<polygon points="524.60,543.30 528.12,548.90 521.08,548.90" fill="#ffff00"/>
<polygon points="571.50,524.80 575.02,530.40 567.98,530.40" fill="#ffff00"/>
<polygon points="618.20,504.70 621.72,510.30 614.68,510.30" fill="#ffff00"/>
<polygon points="665.20,490.40 668.72,496.00 661.68,496.00" fill="#ffff00"/>
<path d="M475.10,551.90L480.30,557.10M480.30,551.90L475.10,557.10" stroke="#33ffff" stroke-width="1.4"/>
<path d="M522.00,543.90L527.20,549.10M527.20,543.90L522.00,549.10" stroke="#33ffff" stroke-width="1.4"/>
<path d="M568.90,532.70L574.10,537.90M574.10,532.70L568.90,537.90" stroke="#33ffff" stroke-width="1.4"/>
<path d="M615.60,524.60L620.80,529.80M620.80,524.60L615.60,529.80" stroke="#33ffff" stroke-width="1.4"/>
<path d="M662.60,514.10L667.80,519.30M667.80,514.10L662.60,519.30" stroke="#33ffff" stroke-width="1.4"/>
<circle cx="571.70" cy="521.80" r="1.5" fill="#000"/>
<circle cx="575.80" cy="533.30" r="1.5" fill="#000"/>
<circle cx="569.70" cy="547.40" r="1.5" fill="#000"/><circle cx="573.70" cy="547.40" r="1.5" fill="#000"/>
<circle cx="616.10" cy="500.10" r="1.5" fill="#000"/><circle cx="620.10" cy="500.10" r="1.5" fill="#000"/>
<circle cx="623.10" cy="524.10" r="1.5" fill="#000"/><circle cx="627.10" cy="524.10" r="1.5" fill="#000"/>
<circle cx="616.10" cy="545.00" r="1.5" fill="#000"/><circle cx="620.10" cy="545.00" r="1.5" fill="#000"/>
<circle cx="663.40" cy="487.00" r="1.5" fill="#000"/><circle cx="667.40" cy="487.00" r="1.5" fill="#000"/>
<circle cx="670.30" cy="515.90" r="1.5" fill="#000"/><circle cx="674.30" cy="515.90" r="1.5" fill="#000"/>
<circle cx="662.60" cy="539.60" r="1.5" fill="#000"/><circle cx="666.60" cy="539.60" r="1.5" fill="#000"/>
<line x1="686.40" y1="483.10" x2="719.30" y2="483.10" stroke="#333399" stroke-width="1.5"/>
<polygon points="702.50,479.64 705.97,483.10 702.50,486.56 699.03,483.10" fill="#000066"/>
<text font-size="8.84" fill="#000" transform="translate(722.55,485.50) scale(1.206,1)">Vector</text>
<line x1="686.40" y1="503.70" x2="719.30" y2="503.70" stroke="#ff33ff" stroke-width="1.5"/>
<rect x="699.14" y="500.34" width="6.72" height="6.72" fill="#ff00ff"/>
<text font-size="8.84" fill="#000" transform="translate(721.92,506.10) scale(1.187,1)">pcDNA-SPRY4</text>
<line x1="686.40" y1="525.40" x2="719.30" y2="525.40" stroke="#ffff33" stroke-width="1.5"/>
<polygon points="702.50,522.04 706.20,527.92 698.80,527.92" fill="#ffff00"/>
<text font-size="8.84" fill="#000" transform="translate(721.92,527.80) scale(1.187,1)">pcDNA-CCAT1+Vector</text>
<line x1="686.40" y1="544.90" x2="719.30" y2="544.90" stroke="#33ffff" stroke-width="1.5"/>
<path d="M699.77,542.17L705.23,547.63M705.23,542.17L699.77,547.63" stroke="#33ffff" stroke-width="1.4"/>
<text font-size="8.84" fill="#000" transform="translate(721.92,547.30) scale(1.178,1)">pcDNA-CCAT1+pcDNA-SPRY4</text>
<rect x="0.5" y="0.5" width="903" height="634" fill="none" stroke="#7b7b7b" stroke-width="1"/>
</svg>
</body></html>
